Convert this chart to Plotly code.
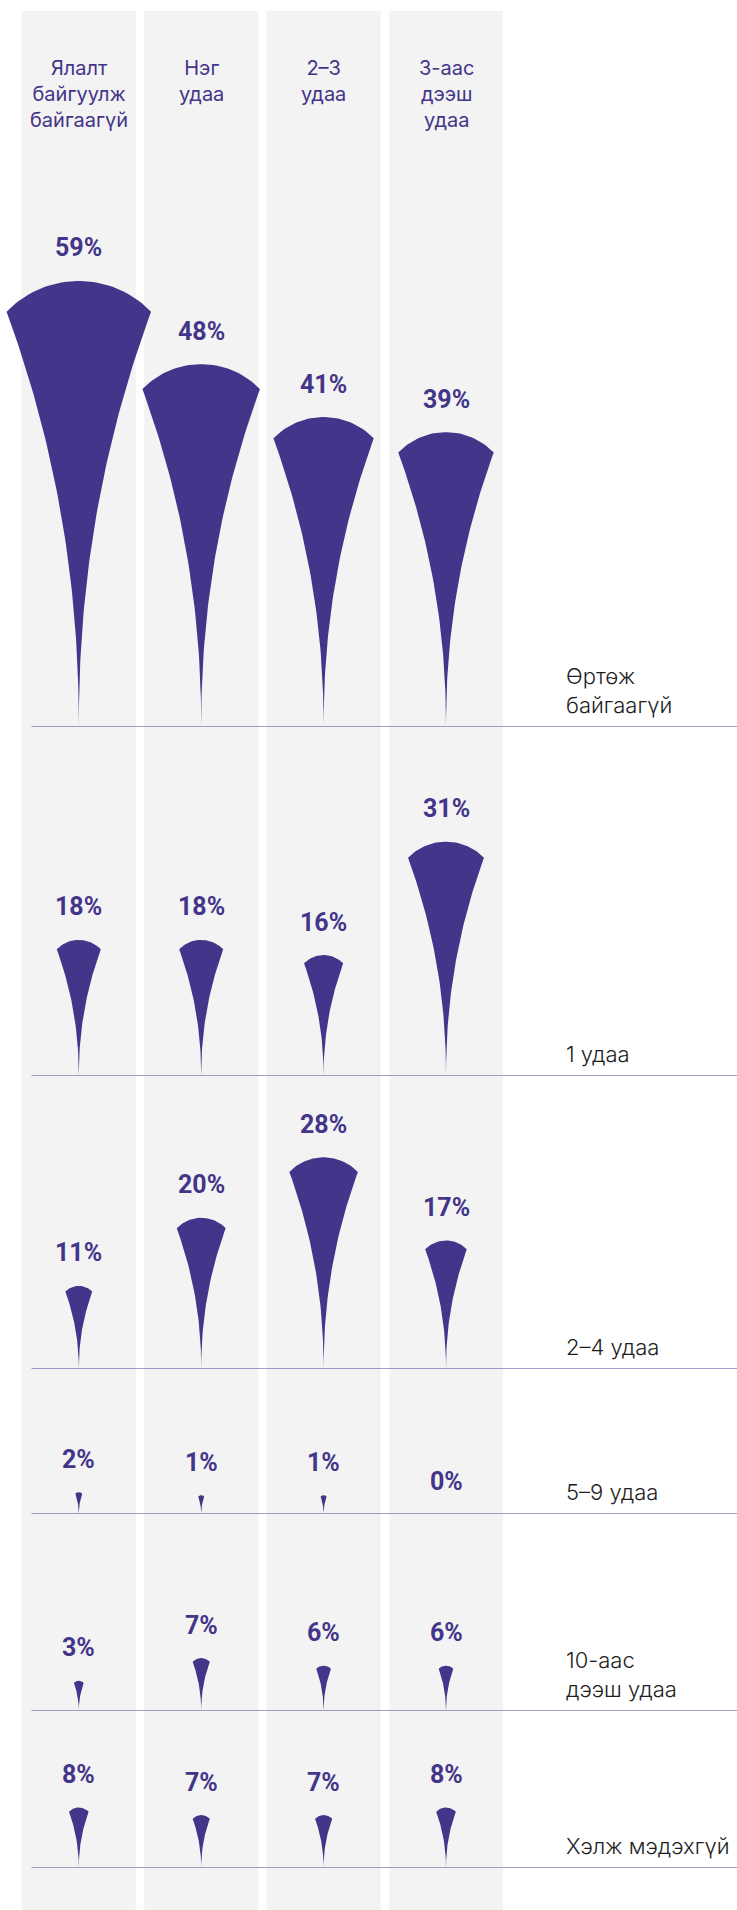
import numpy as np
import plotly.graph_objects as go

# column headers (attack frequency) and row categories
columns = ["Ялалт<br>байгуулж<br>байгаагүй", "Нэг<br>удаа", "2–3<br>удаа", "3-аас<br>дээш<br>удаа"]
rows = ["Өртөж<br>байгаагүй", "1 удаа", "2–4 удаа", "5–9 удаа", "10-аас<br>дээш удаа", "Хэлж мэдэхгүй"]

# printed percentages
row_never = [59, 48, 41, 39]
row_once = [18, 18, 16, 31]
row_2_4 = [11, 20, 28, 17]
row_5_9 = [2, 1, 1, 0]
row_10_plus = [3, 7, 6, 6]
row_dont_know = [8, 7, 7, 8]
values = [row_never, row_once, row_2_4, row_5_9, row_10_plus, row_dont_know]

# drop sizes as drawn (small ones are drawn a bit larger than printed)
drawn_5_9 = [2.9, 2.5, 2.5, 0]
drawn_10_plus = [4, 7, 6, 6]
drawn = [row_never, row_once, row_2_4, drawn_5_9, drawn_10_plus, row_dont_know]

COLORS = {
    'drop': '#433589',
    'text': '#433589',
    'column': '#f3f3f3',
    'rule': '#4b3f96',
    'label': '#1e1e1e',
}

W, H = 737, 1910
PITCH = 122.4      # px between column centres
FIRST = 78.8       # px of first column centre
PX_PER_PCT = 7.56  # vertical px per percent
baselines = [727, 1076, 1369, 1514, 1711, 1868]


def drop_outline(cx, s):
    """Teardrop: circular cap on top, concave sides meeting at a point on y=0."""
    if s <= 0:
        return [], []
    half = 1.224 * s / PITCH              # half width in x units
    half_px = 1.224 * s
    sag_px = 0.52 * s
    shoulder = s - sag_px / PX_PER_PCT      # y of shoulders (pct units)
    R = (half_px ** 2 + sag_px ** 2) / (2 * sag_px)
    th = np.arcsin(half_px / R)
    ang = np.linspace(-th, th, 40)
    arc_x = cx + R * np.sin(ang) / PITCH
    arc_y = s - (R - R * np.cos(ang)) / PX_PER_PCT
    t = np.linspace(0, 1, 60)
    hw = half * (1 - t) ** 2.1
    yy = shoulder * (1 - t)
    # right side going down, then left side going up
    xs = list(arc_x) + list(cx + hw) + list(cx - hw[::-1])
    ys = list(arc_y) + list(yy) + list(yy[::-1])
    return xs, ys


fig = go.Figure()
layout_axes = {}
tops = [0] + baselines[:-1]
for r, (b, t) in enumerate(zip(baselines, tops)):
    n = r + 1
    yname = 'y' if n == 1 else f'y{n}'
    key = 'yaxis' if n == 1 else f'yaxis{n}'
    layout_axes[key] = dict(
        domain=[(H - b) / H, (H - t) / H],
        range=[0, (b - t) / PX_PER_PCT],
        anchor='x', visible=False, fixedrange=True,
    )
    xs, ys = [], []
    for c, s in enumerate(drawn[r]):
        px_, py_ = drop_outline(c, s)
        if px_:
            xs += px_ + [None]
            ys += py_ + [None]
    fig.add_trace(go.Scatter(
        x=xs, y=ys, xaxis='x', yaxis=yname, mode='lines',
        fill='toself', fillcolor=COLORS['drop'], line=dict(width=0),
        hoverinfo='skip', showlegend=False,
    ))
    # value labels above each drop
    for c, v in enumerate(values[r]):
        fig.add_annotation(
            x=c, y=drawn[r][c], xref='x', yref=yname, text=f"{v}%",
            showarrow=False, yanchor='middle', yshift=33,
            font=dict(family='Roboto', size=25, color=COLORS['text'], weight='bold'),
        )
    # row label
    fig.add_annotation(
        x=564 / W, y=0, xref='paper', yref=yname, text=rows[r],
        showarrow=False, xanchor='left', yanchor='bottom', yshift=7, align='left',
        font=dict(family='Inter, Roboto', size=22, color=COLORS['label'], weight=300),
    )
    # horizontal rule
    fig.add_shape(
        type='line', xref='paper', yref=yname, x0=31.5 / W, x1=1, y0=0, y1=0,
        line=dict(color=COLORS['rule'], width=1), layer='above',
    )

# grey column backgrounds
for c in range(len(columns)):
    fig.add_shape(
        type='rect', xref='x', yref='paper', x0=c - 0.466, x1=c + 0.466,
        y0=0, y1=(H - 11) / H, fillcolor=COLORS['column'], line=dict(width=0),
        layer='below',
    )
    fig.add_annotation(
        x=c, y=(H - 54) / H, xref='x', yref='paper', text=columns[c],
        showarrow=False, yanchor='top',
        font=dict(family='Inter, Roboto', size=20, color=COLORS['text']),
    )

fig.update_layout(
    width=W, height=H,
    margin=dict(l=0, r=0, t=0, b=0),
    paper_bgcolor='white', plot_bgcolor='rgba(0,0,0,0)',
    xaxis=dict(range=[-FIRST / PITCH, (W - FIRST) / PITCH], domain=[0, 1],
               visible=False, fixedrange=True, anchor='y'),
    **layout_axes,
)

# page body has a default 8px margin; drop it so the figure fills the window
fig.write_html("out.html", config={'displayModeBar': False},
               post_script="document.body.style.margin='0';")
